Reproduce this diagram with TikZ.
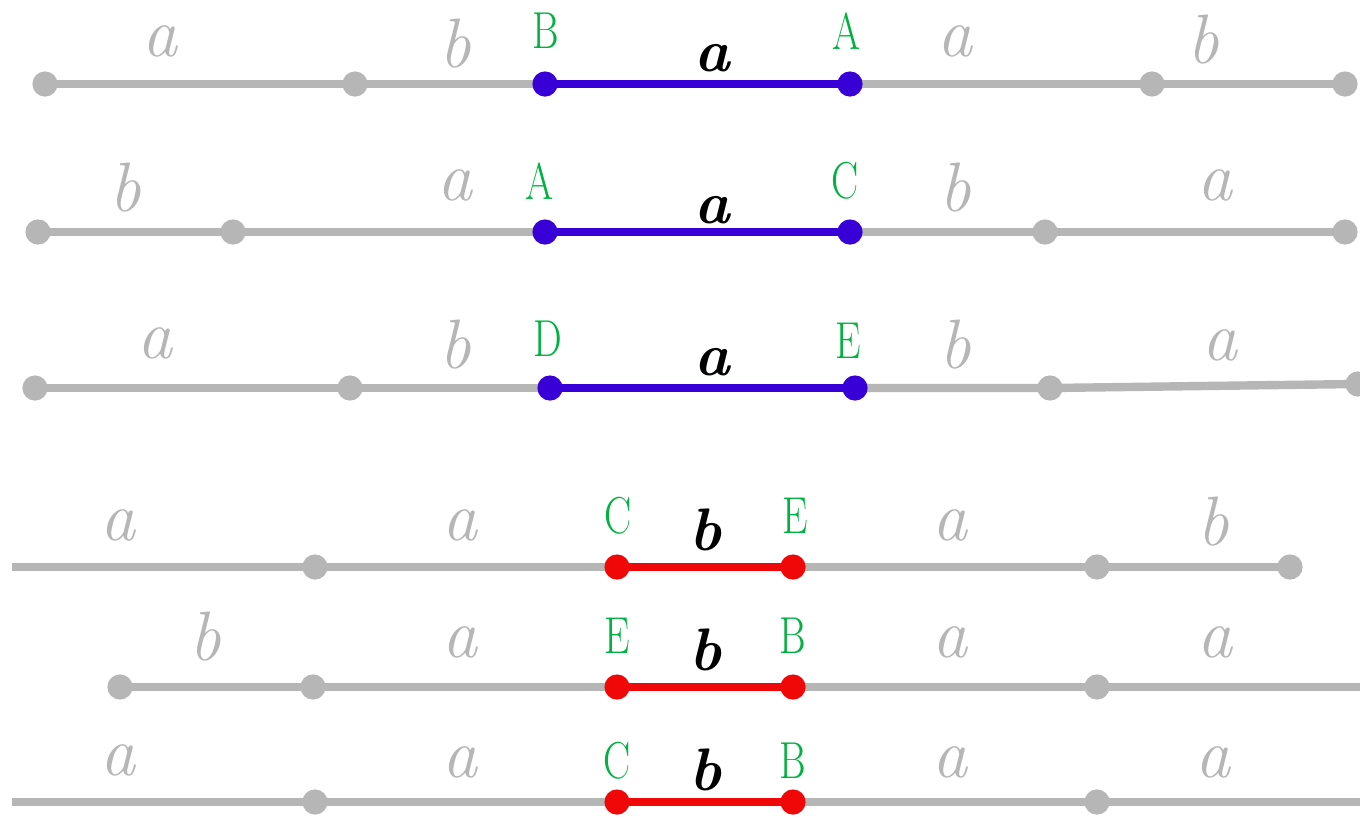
\documentclass[tikz,border=0pt]{standalone}
\usepackage{fontspec}
\usepackage{xcolor}
\usepackage{tikz}
\newfontfamily\ptfont[FakeStretch=0.78]{Latin Modern Roman}
\definecolor{segGray}{RGB}{182,182,182}
\definecolor{segBlue}{RGB}{56,0,214}
\definecolor{segRed}{RGB}{240,8,8}
\definecolor{ptGreen}{RGB}{0,178,64}
\begin{document}
\begin{tikzpicture}[x=0.5pt, y=-0.5pt]
  \tikzset{gline/.style={draw=segGray, line width=4.2pt},bline/.style={draw=segBlue, line width=4.4pt},rline/.style={draw=segRed, line width=4.4pt},gdot/.style={fill=segGray},bdot/.style={fill=segBlue},rdot/.style={fill=segRed},glab/.style={text=segGray, inner sep=0pt, font=\fontsize{35}{38}\selectfont\itshape},plab/.style={text=ptGreen, inner sep=0pt, font=\fontsize{26}{28}\selectfont\ptfont},seglab/.style={text=black, inner sep=0pt, font=\fontsize{30}{32}\selectfont\bfseries\itshape}}
  \useasboundingbox[fill=white] (0,0) rectangle (1360,816);
  % row 1
  \coordinate (r1a) at (45,84); \coordinate (r1b) at (355,84); \coordinate (r1B) at (545,84);
  \coordinate (r1A) at (850,84); \coordinate (r1e) at (1152,84); \coordinate (r1f) at (1345,84);
  \draw[gline] (r1a) -- (r1b) -- (r1B); \draw[gline] (r1A) -- (r1e) -- (r1f);
  \draw[bline] (r1B) -- (r1A);
  \foreach \p in {r1a,r1b,r1e,r1f} \fill[gdot] (\p) circle (6.3pt);
  \foreach \p in {r1B,r1A} \fill[bdot] (\p) circle (6.3pt);
  \node[glab] (l1a) at (160,41) {a};
  \node[glab] (l1b) at (455,44) {b};
  \node[plab] (n1B) at (546,31) {B};
  \node[seglab] (s1) at (712,58) {a};
  \node[plab] (n1A) at (847,31) {A};
  \node[glab] (l1c) at (955,41) {a};
  \node[glab] (l1d) at (1203,40) {b};
  % row 2
  \coordinate (r2a) at (38,232); \coordinate (r2b) at (233,232); \coordinate (r2A) at (545,232);
  \coordinate (r2C) at (850,232); \coordinate (r2e) at (1045,232); \coordinate (r2f) at (1345,232);
  \draw[gline] (r2a) -- (r2b) -- (r2A); \draw[gline] (r2C) -- (r2e) -- (r2f);
  \draw[bline] (r2A) -- (r2C);
  \foreach \p in {r2a,r2b,r2e,r2f} \fill[gdot] (\p) circle (6.3pt);
  \foreach \p in {r2A,r2C} \fill[bdot] (\p) circle (6.3pt);
  \node[glab] (l2a) at (125,188) {b};
  \node[glab] (l2b) at (455,185) {a};
  \node[plab] (n2A) at (540,181) {A};
  \node[seglab] (s2) at (712,210) {a};
  \node[plab] (n2C) at (845,181) {C};
  \node[glab] (l2c) at (955,188) {b};
  \node[glab] (l2d) at (1215,185) {a};
  % row 3
  \coordinate (r3a) at (35,388); \coordinate (r3b) at (350,388); \coordinate (r3D) at (550,388);
  \coordinate (r3E) at (855,388); \coordinate (r3e) at (1050,388); \coordinate (r3f) at (1358,384);
  \draw[gline] (r3a) -- (r3b) -- (r3D); \draw[gline] (r3E) -- (r3e) -- (r3f);
  \draw[bline] (r3D) -- (r3E);
  \foreach \p in {r3a,r3b,r3e,r3f} \fill[gdot] (\p) circle (6.3pt);
  \foreach \p in {r3D,r3E} \fill[bdot] (\p) circle (6.3pt);
  \node[glab] (l3a) at (155,343) {a};
  \node[glab] (l3b) at (455,345) {b};
  \node[plab] (n3D) at (548,339) {D};
  \node[seglab] (s3) at (712,362) {a};
  \node[plab] (n3E) at (848,341) {E};
  \node[glab] (l3c) at (955,345) {b};
  \node[glab] (l3d) at (1220,345) {a};
  % row 4
  \coordinate (r4a) at (12,567); \coordinate (r4b) at (315,567); \coordinate (r4C) at (617,567);
  \coordinate (r4E) at (793,567); \coordinate (r4e) at (1097,567); \coordinate (r4f) at (1290,567);
  \draw[gline] (r4a) -- (r4b) -- (r4C); \draw[gline] (r4E) -- (r4e) -- (r4f);
  \draw[rline] (r4C) -- (r4E);
  \foreach \p in {r4b,r4e,r4f} \fill[gdot] (\p) circle (6.3pt);
  \foreach \p in {r4C,r4E} \fill[rdot] (\p) circle (6.3pt);
  \node[glab] (l4a) at (118,525) {a};
  \node[glab] (l4b) at (460,525) {a};
  \node[plab] (n4C) at (618,516) {C};
  \node[seglab] (s4) at (705,530) {b};
  \node[plab] (n4E) at (795,516) {E};
  \node[glab] (l4c) at (950,525) {a};
  \node[glab] (l4d) at (1213,522) {b};
  % row 5
  \coordinate (r5a) at (120,687); \coordinate (r5b) at (313,687); \coordinate (r5E) at (617,687);
  \coordinate (r5B) at (793,687); \coordinate (r5e) at (1097,687); \coordinate (r5f) at (1360,687);
  \draw[gline] (r5a) -- (r5b) -- (r5E); \draw[gline] (r5B) -- (r5e) -- (r5f);
  \draw[rline] (r5E) -- (r5B);
  \foreach \p in {r5a,r5b,r5e} \fill[gdot] (\p) circle (6.3pt);
  \foreach \p in {r5E,r5B} \fill[rdot] (\p) circle (6.3pt);
  \node[glab] (l5a) at (205,637) {b};
  \node[glab] (l5b) at (460,642) {a};
  \node[plab] (n5E) at (617,636) {E};
  \node[seglab] (s5) at (705,650) {b};
  \node[plab] (n5B) at (793,636) {B};
  \node[glab] (l5c) at (950,642) {a};
  \node[glab] (l5d) at (1215,642) {a};
  % row 6
  \coordinate (r6a) at (12,802); \coordinate (r6b) at (315,802); \coordinate (r6C) at (617,802);
  \coordinate (r6B) at (793,802); \coordinate (r6e) at (1097,802); \coordinate (r6f) at (1360,802);
  \draw[gline] (r6a) -- (r6b) -- (r6C); \draw[gline] (r6B) -- (r6e) -- (r6f);
  \draw[rline] (r6C) -- (r6B);
  \foreach \p in {r6b,r6e} \fill[gdot] (\p) circle (6.3pt);
  \foreach \p in {r6C,r6B} \fill[rdot] (\p) circle (6.3pt);
  \node[glab] (l6a) at (118,760) {a};
  \node[glab] (l6b) at (460,762) {a};
  \node[plab] (n6C) at (617,761) {C};
  \node[seglab] (s6) at (705,770) {b};
  \node[plab] (n6B) at (793,761) {B};
  \node[glab] (l6c) at (950,762) {a};
  \node[glab] (l6d) at (1213,762) {a};
\end{tikzpicture}
\end{document}
